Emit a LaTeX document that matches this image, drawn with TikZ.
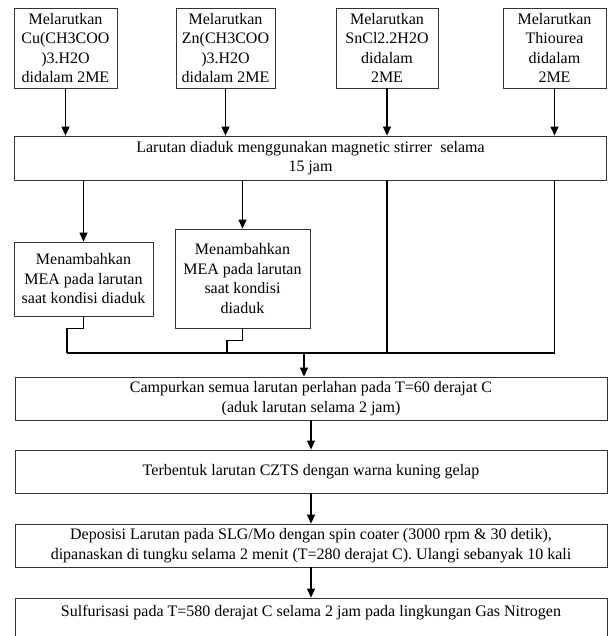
\documentclass[tikz,border=0pt]{standalone}
\usepackage{fontspec}
\setmainfont{Liberation Serif}
\usetikzlibrary{arrows.meta}
\begin{document}
\begin{tikzpicture}[x=1pt,y=-1pt,
  box/.style={draw=black!80, line width=0.8pt, rectangle, inner sep=0pt, align=center,
    font=\fontsize{16}{19.5}\selectfont},
  conn/.style={line width=1.1pt, black},
  arr/.style={conn, -{Triangle[width=8pt,length=9pt]}}]
\useasboundingbox (0,0) rectangle (609,636);
% top boxes
\node[box, minimum width=103pt, minimum height=80pt] (t1) at (65.5,48) {Melarutkan\\Cu(CH3COO\\)3.H2O\\didalam 2ME};
\node[box, minimum width=99pt, minimum height=80pt] (t2) at (225.5,48) {Melarutkan\\Zn(CH3COO\\)3.H2O\\didalam 2ME};
\node[box, minimum width=102pt, minimum height=80pt] (t3) at (387,48) {Melarutkan\\SnCl2.2H2O\\didalam\\2ME};
\node[box, minimum width=103pt, minimum height=80pt] (t4) at (554.5,48) {Melarutkan\\Thiourea\\didalam\\2ME};
% stir box
\node[box, minimum width=592pt, minimum height=44pt] (big) at (310.5,158) {Larutan diaduk menggunakan magnetic stirrer\ \ selama\\15 jam};
% MEA boxes
\node[box, minimum width=139pt, minimum height=74pt] (m1) at (83.5,279) {Menambahkan\\MEA pada larutan\\saat kondisi diaduk};
\node[box, minimum width=135pt, minimum height=99pt] (m2) at (242.5,278.5) {Menambahkan\\MEA pada larutan\\saat kondisi\\diaduk};
% lower boxes
\node[box, minimum width=592pt, minimum height=43pt] (camp) at (311,398.5) {Campurkan semua larutan perlahan pada T=60 derajat C\\(aduk larutan selama 2 jam)};
\node[box, minimum width=592pt, minimum height=43pt] (terb) at (311,471.5) {Terbentuk larutan CZTS dengan warna kuning gelap};
\node[box, minimum width=592pt, minimum height=43pt] (depo) at (311,545.5) {Deposisi Larutan pada SLG/Mo dengan spin coater (3000 rpm \& 30 detik),\\dipanaskan di tungku selama 2 menit (T=280 derajat C). Ulangi sebanyak 10 kali};
\node[box, minimum width=592pt, minimum height=45pt] (sulf) at (311,620.5) {Sulfurisasi pada T=580 derajat C selama 2 jam pada lingkungan Gas Nitrogen\\\mbox{}};
% junction points
\coordinate (jl) at (67,353);
\coordinate (jl2) at (227,353);
\coordinate (jm) at (304,353);
% connectors top -> big
\draw[arr] (t1.south) -- (t1.south |- big.north);
\draw[arr] (t2.south) -- (t2.south |- big.north);
\draw[arr] (t3.south) -- (t3.south |- big.north);
\draw[arr] (t4.south) -- (t4.south |- big.north);
% big -> MEA
\draw[arr] (big.south -| m1.north) -- (m1.north);
\draw[arr] (big.south -| m2.north) -- (m2.north);
% direct lines from big down to merge line
\draw[conn] (big.south -| t3.south) -- (t3.south |- jl);
\draw[conn] (big.south -| t4.south) -- (t4.south |- jl) -- (jl);
% MEA -> merge line
\draw[conn] (m1.south) -- ++(0,12) -| (jl);
\draw[conn] (m2.south) -- ++(0,12) -| (jl2);
% merge -> campurkan
\draw[arr] (jm) -- (jm |- camp.north);
% lower chain
\draw[arr] (camp.south) -- (terb.north);
\draw[arr] (terb.south) -- (depo.north);
\draw[arr] (depo.south) -- (sulf.north);
\end{tikzpicture}
\end{document}
